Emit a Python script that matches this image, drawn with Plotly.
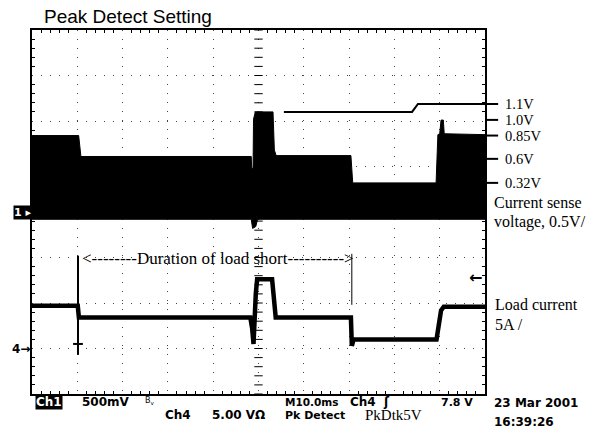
import numpy as np
import plotly.graph_objects as go

# scope settings
t_per_div = 10.0        # ms / div
ch1_v_per_div = 0.5     # V / div, ground at centre
ch4_a_per_div = 5.0     # A / div
ch4_ground_div = -3.0
trig_level = 7.8        # Ch4 trigger level

# Ch1 current sense voltage, peak detect envelope (V)
ch1_t_top = [0, 10.3, 10.8, 48.4, 48.5, 48.8, 48.9, 49.3, 53.2, 53.5, 53.9,
             70.4, 70.8, 89.2, 89.6, 90.0, 90.3, 90.8, 91.0, 100]
ch1_v_top = [0.84, 0.84, 0.61, 0.61, 0.48, 0.48, 1.02, 1.10, 1.10, 0.68, 0.62,
             0.62, 0.32, 0.32, 0.85, 0.86, 1.01, 1.01, 0.86, 0.85]
ch1_t_bot = [0, 48.4, 48.7, 49.4, 49.8, 100]
ch1_v_bot = [-0.08, -0.08, -0.18, -0.16, -0.08, -0.08]

# Ch4 load current (A)
ch4_t = [0, 10.1, 10.35, 48.2, 48.6, 48.9, 49.4, 49.7, 53.0, 53.5, 53.8,
         70.4, 70.6, 71.0, 89.3, 90.3, 90.9, 100]
ch4_i = [4.7, 4.7, 3.4, 3.4, 2.2, 0.5, 6.0, 7.6, 7.6, 4.0, 3.4,
         3.4, 0.3, 1.0, 1.0, 4.2, 4.6, 4.6]
spike_t = [10.15, 10.15]
spike_i = [10.2, -0.7]

short_start = 10.6
short_end = 70.6

right_labels = ["1.1V", "1.0V", "0.85V", "0.6V", "0.32V"]
label_y = [0.797, 0.753, 0.710, 0.646, 0.580]


def ch1_div(v):
    return np.array(v) / ch1_v_per_div


def ch4_div(i):
    return ch4_ground_div + np.array(i) / ch4_a_per_div


fig = go.Figure()

# centre cross-hair ticks
yt = np.arange(-4, 4.01, 0.2)
xt = np.arange(0, 100.1, 2)
fig.add_trace(go.Scatter(x=np.full(len(yt), 50), y=yt, mode='markers',
                         marker=dict(symbol='line-ew', size=6,
                                     line=dict(width=1, color='black'))))
fig.add_trace(go.Scatter(x=xt, y=np.zeros(len(xt)), mode='markers',
                         marker=dict(symbol='line-ns', size=6,
                                     line=dict(width=1, color='black'))))

# Ch1 band
fig.add_trace(go.Scatter(x=ch1_t_top + ch1_t_bot[::-1],
                         y=np.concatenate([ch1_div(ch1_v_top), ch1_div(ch1_v_bot)[::-1]]),
                         fill='toself', fillcolor='black', mode='lines',
                         line=dict(color='black', width=1)))

# Ch4 trace
fig.add_trace(go.Scatter(x=ch4_t, y=ch4_div(ch4_i), mode='lines',
                         line=dict(color='black', width=4.5)))
fig.add_trace(go.Scatter(x=spike_t, y=ch4_div(spike_i), mode='lines',
                         line=dict(color='black', width=2)))
fig.add_trace(go.Scatter(x=[spike_t[0]], y=ch4_div([0.5]), mode='markers',
                         marker=dict(symbol='line-ew', size=7,
                                     line=dict(width=2, color='black'))))

# end of short marker
fig.add_shape(type='line', x0=short_end, x1=short_end,
              y0=ch4_div(10.4), y1=ch4_div(4.8),
              line=dict(color='black', width=1))

# 1.1V pointer
fig.add_shape(type='path', xref='paper', yref='paper',
              path='M 0.556 0.775 L 0.839 0.775 L 0.852 0.797 L 1.029 0.797',
              line=dict(color='black', width=2))
for yy in label_y[1:]:
    fig.add_shape(type='line', xref='paper', yref='paper', x0=1.004, x1=1.029,
                  y0=yy, y1=yy, line=dict(color='black', width=2))

serif = dict(family='Liberation Serif', size=16, color='black')
mono = dict(family='DejaVu Sans', size=12, color='black', weight='bold')

ann = []
for lab, yy in zip(right_labels, label_y):
    ann.append(dict(x=1.040, y=yy, text=lab,
                    font=dict(family='Liberation Serif', size=14.5, color='black')))
for lab, yy, xx in [("Current sense", 0.525, 1.015), ("voltage, 0.5V/", 0.473, 1.015),
                    ("Load current", 0.245, 1.018), ("5A /", 0.190, 1.018)]:
    ann.append(dict(x=xx, y=yy, text=lab, font=serif))

ann.append(dict(x=short_start, y=float(ch4_div(9.9)), xref='x', yref='y',
                text='<--------Duration of load short---------->',
                font=dict(family='Liberation Serif', size=17, color='black')))

# bottom readout
for lab, xx, yy in [("500mV", 0.106, -0.022), ("Ch4", 0.289, -0.058),
                    ("5.00 VΩ", 0.393, -0.058), ("Ch4  ʃ", 0.697, -0.022),
                    ("23 Mar 2001", 1.015, -0.026), ("16:39:26", 1.015, -0.077)]:
    ann.append(dict(x=xx, y=yy, text=lab, font=mono))
for lab, xx, yy, sz in [("M10.0ms", 0.555, -0.022, 10.5), ("Pk Detect", 0.555, -0.058, 11)]:
    ann.append(dict(x=xx, y=yy, text=lab,
                    font=dict(family='DejaVu Sans', size=sz, color='black', weight='bold')))
ann.append(dict(x=0.978, y=-0.022, xanchor='right', text='7.8 V',
                font=dict(family='DejaVu Sans', size=11, color='black', weight='bold')))
ann.append(dict(x=0.731, y=-0.058, text='PkDtk5V',
                font=dict(family='Liberation Serif', size=15, color='black')))
ann.append(dict(x=0.245, y=-0.018, text='B<sub>v</sub>',
                font=dict(family='DejaVu Sans', size=8, color='black')))
ann.append(dict(x=0.0066, y=-0.022, text='Ch1', bgcolor='black', borderpad=0,
                font=dict(family='DejaVu Sans', size=12, color='white', weight='bold')))

# channel markers
ann.append(dict(x=-0.001, y=0.5, xanchor='right', text='1 ▸', bgcolor='black', borderpad=0,
                font=dict(family='DejaVu Sans', size=11, color='white', weight='bold')))
ann.append(dict(x=-0.001, y=(ch4_ground_div + 4) / 8, xanchor='right', text='4→',
                font=dict(family='DejaVu Sans', size=12, color='black', weight='bold')))
ann.append(dict(x=0.997, y=float(ch4_div(trig_level) + 4) / 8, xanchor='right', text='←',
                font=dict(family='DejaVu Sans', size=16, color='black', weight='bold')))

# title
ann.append(dict(x=0.022, y=1.038, text='Peak Detect Setting',
                font=dict(family='Liberation Sans', size=19, color='black')))

for a in ann:
    a.setdefault('xref', 'paper')
    a.setdefault('yref', 'paper')
    a.setdefault('xanchor', 'left')
    a.setdefault('yanchor', 'middle')
    a['showarrow'] = False
fig.update_layout(annotations=ann)

fig.update_xaxes(range=[0, 100], dtick=t_per_div, showgrid=True, gridcolor='#444',
                 griddash='1px,8px', gridwidth=1, zeroline=False, showticklabels=False,
                 showline=True, linecolor='black', linewidth=1.5, mirror='ticks',
                 ticks='', minor=dict(dtick=2, ticks='inside', ticklen=3,
                                      tickcolor='black', showgrid=False))
fig.update_yaxes(range=[-4, 4], dtick=1, showgrid=True, gridcolor='#444',
                 griddash='1px,8px', gridwidth=1, zeroline=False, showticklabels=False,
                 showline=True, linecolor='black', linewidth=1.5, mirror='ticks',
                 ticks='', minor=dict(dtick=0.2, ticks='inside', ticklen=3,
                                      tickcolor='black', showgrid=False))

fig.update_layout(width=595, height=432,
                  margin=dict(l=32, r=110, t=30, b=38),
                  paper_bgcolor='white', plot_bgcolor='white',
                  showlegend=False)

fig.write_html("out.html", config={'displayModeBar': False},
               post_script="document.body.style.margin='0';")
